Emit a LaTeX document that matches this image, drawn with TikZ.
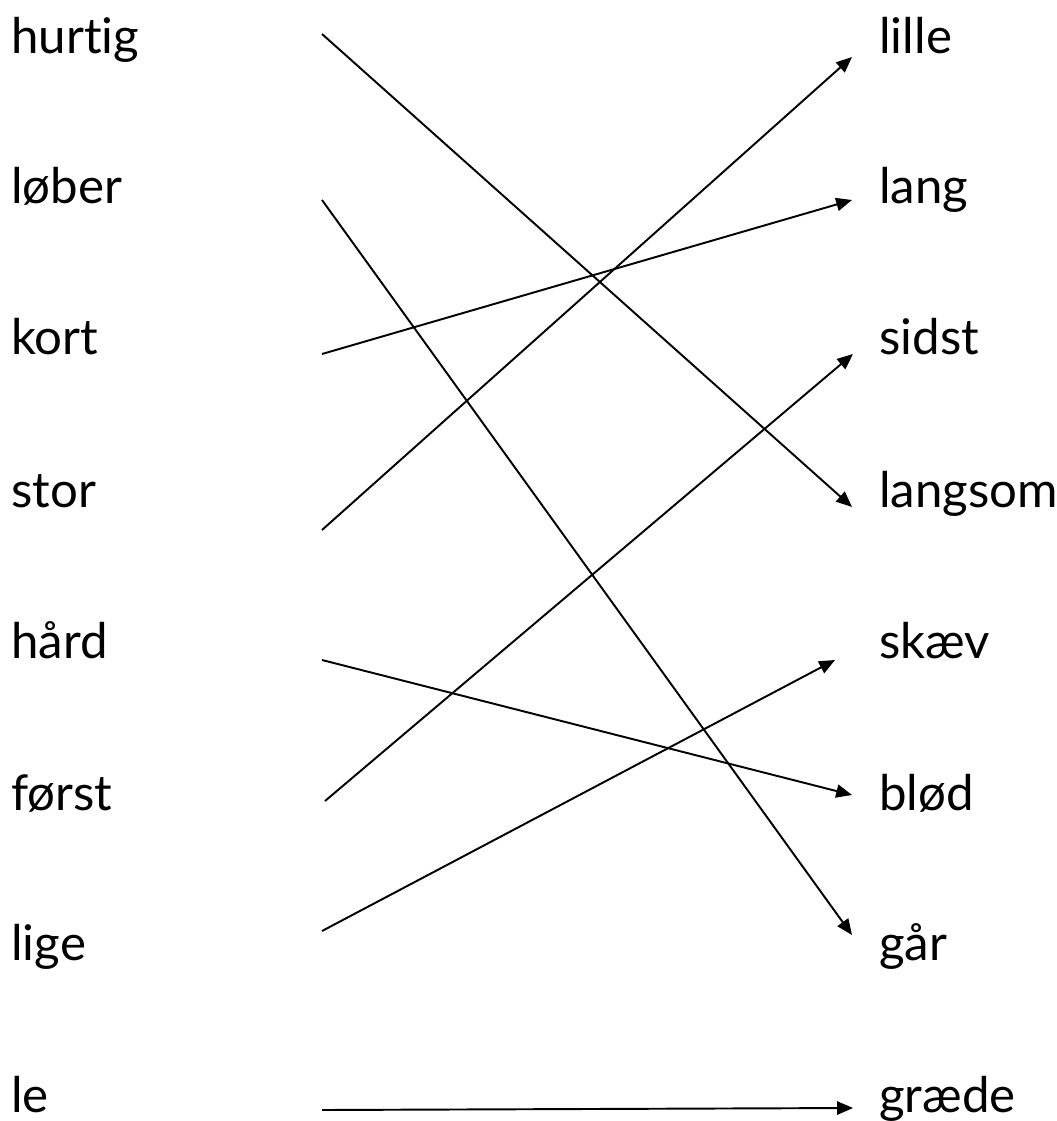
\documentclass[tikz,border=0pt]{standalone}
\usepackage{fontspec}
\setmainfont{Lato}[Ligatures={NoCommon}]
\usetikzlibrary{arrows.meta, positioning}

\begin{document}
\begin{tikzpicture}[
    x=0.02cm, y=-0.02cm,
    word/.style={anchor=base west, inner sep=0pt, font=\fontsize{28}{30}\selectfont},
    arrow/.style={-{Triangle[length=9pt, width=7.5pt]}, line width=1.1pt}
]
    \useasboundingbox (0,0) rectangle (1056,1121);

    % Left words
    \node[word] (hurtig) at (11,54)   {hurtig};
    \node[word] (lober)  at (11,204)  {løber};
    \node[word] (kort)   at (11,355)  {kort};
    \node[word] (stor)   at (11,507)  {stor};
    \node[word] (haard)  at (11,658)  {hård};
    \node[word] (forst)  at (11,810)  {først};
    \node[word] (lige)   at (11,960)  {lige};
    \node[word] (le)     at (11,1112) {le};

    % Right words
    \node[word] (lille)   at (879,54)   {lille};
    \node[word] (lang)    at (879,204)  {lang};
    \node[word] (sidst)   at (879,355)  {sidst};
    \node[word] (langsom) at (879,507)  {langsom};
    \node[word] (skaev)   at (879,658)  {skæv};
    \node[word] (blod)    at (879,810)  {blød};
    \node[word] (gaar)    at (879,960)  {går};
    \node[word] (graede)  at (879,1112) {græde};

    % Line starts
    \coordinate (hurtig-s) at (322,34);
    \coordinate (lober-s)  at (322,200);
    \coordinate (kort-s)   at (322,354);
    \coordinate (stor-s)   at (322,530);
    \coordinate (haard-s)  at (322,660);
    \coordinate (forst-s)  at (325,801);
    \coordinate (lige-s)   at (322,931);
    \coordinate (le-s)     at (322,1110);

    % Arrows
    \draw[arrow] (hurtig-s) -- ([shift={(-27,0)}]langsom.base west);
    \draw[arrow] (lober-s) -- ([shift={(-27,-25)}]gaar.base west);
    \draw[arrow] (kort-s) -- ([shift={(-27,-4)}]lang.base west);
    \draw[arrow] (stor-s) -- ([shift={(-27,3)}]lille.base west);
    \draw[arrow] (haard-s) -- ([shift={(-27,-15)}]blod.base west);
    \draw[arrow] (forst-s) -- ([shift={(-26,-1)}]sidst.base west);
    \draw[arrow] (lige-s) -- ([shift={(-44,2)}]skaev.base west);
    \draw[arrow] (le-s) -- ([shift={(-26,-4)}]graede.base west);
\end{tikzpicture}
\end{document}
